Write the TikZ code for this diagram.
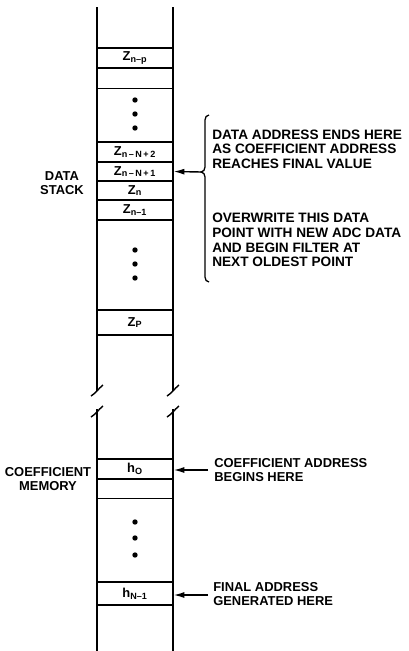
\documentclass[tikz,border=0pt]{standalone}
\usepackage{fontspec}
\setmainfont{Liberation Sans}
\usetikzlibrary{arrows.meta,positioning}

\newcommand{\lbl}{\bfseries\fontsize{9.2}{10.3}\selectfont}
\newcommand{\biglbl}{\bfseries\fontsize{9.7}{10.4}\selectfont}
\newcommand{\lowsub}[1]{\textsubscript{#1}}

\tikzset{
  col/.style={line width=1pt},
  cell/.style={draw, line width=0.8pt, minimum width=1.9cm, minimum height=0.5cm, inner sep=0pt, font=\lbl},
  note/.style={anchor=west, align=left, inner sep=0pt, font=\lbl},
  arr/.style={-{Latex[length=2.7mm,width=1.5mm]}, line width=1pt},
}

\begin{document}
\begin{tikzpicture}[x=0.025cm, y=-0.025cm]
  \useasboundingbox (0,0) rectangle (408,651);

  % 竖线与断开符号
  \foreach \cx in {97,173} {
    \draw[col] (\cx,7) -- (\cx,391);
    \draw[col] (\cx,409) -- (\cx,651);
    \draw[col] (\cx-6,396) .. controls (\cx-1,393) and (\cx+1,389) .. (\cx+6,385);
    \draw[col] (\cx-6,417) .. controls (\cx-1,414) and (\cx+1,410) .. (\cx+6,406);
  }

  % 数据栈
  \node[cell] (znp) at (135,58) {Z\lowsub{n--p}};
  \node[cell] (zblank) at (135,78.5) {};
  \node[cell] (znN2) at (135,152) {Z\lowsub{n\,--\,N\,+\,2}};
  \node[cell] (znN1) at (135,171.5) {Z\lowsub{n\,--\,N\,+\,1}};
  \node[cell] (zn) at (135,190.5) {Z\lowsub{n}};
  \node[cell] (zn1) at (135,210) {Z\lowsub{n--1}};
  \node[cell, minimum height=0.625cm] (zp) at (135,322.5) {Z\lowsub{P}};

  % 系数存储
  \node[cell] (h0) at (135,469) {h\lowsub{O}};
  \node[cell] (hblank) at (135,488.5) {};
  \node[cell, minimum height=0.575cm] (hN1) at (135,593.5) {h\lowsub{N--1}};

  % 省略点
  \foreach \dy in {100,114,128, 250,264,278, 522,538,555}
    \fill (135,\dy) circle (1.9pt);

  % 左侧标签
  \node[align=center, font=\lbl] (stacklbl) at (62,183) {DATA\\STACK};
  \node[align=center, font=\lbl] (coeflbl) at (48,479) {COEFFICIENT\\MEMORY};

  % 花括号
  \draw[line width=0.9pt] (209,115) to[out=180,in=90] (205,120) -- (205,167)
    to[out=270,in=0] (201,172) to[out=0,in=90] (205,177) -- (205,277)
    to[out=270,in=180] (209,282);
  \coordinate (bracetip) at (201,172);

  % 右侧说明
  \node[note, font=\biglbl] (endnote) at (212,149) {DATA ADDRESS ENDS HERE\\AS COEFFICIENT ADDRESS\\REACHES FINAL VALUE};
  \node[note, font=\biglbl] (overnote) at (212,240) {OVERWRITE THIS DATA\\POINT WITH NEW ADC DATA\\AND BEGIN FILTER AT\\NEXT OLDEST POINT};
  \node[note] (beginnote) at (214,470) {COEFFICIENT ADDRESS\\BEGINS HERE};
  \node[note] (finalnote) at (213,594) {FINAL ADDRESS\\GENERATED HERE};

  % 箭头
  \coordinate (tailh0) at (208,470);
  \coordinate (tailhN) at (208,595);
  \draw[arr] (bracetip) -- (znN1.east);
  \draw[arr] (tailh0) -- (h0.east |- tailh0);
  \draw[arr] (tailhN) -- (hN1.east |- tailhN);
\end{tikzpicture}
\end{document}
